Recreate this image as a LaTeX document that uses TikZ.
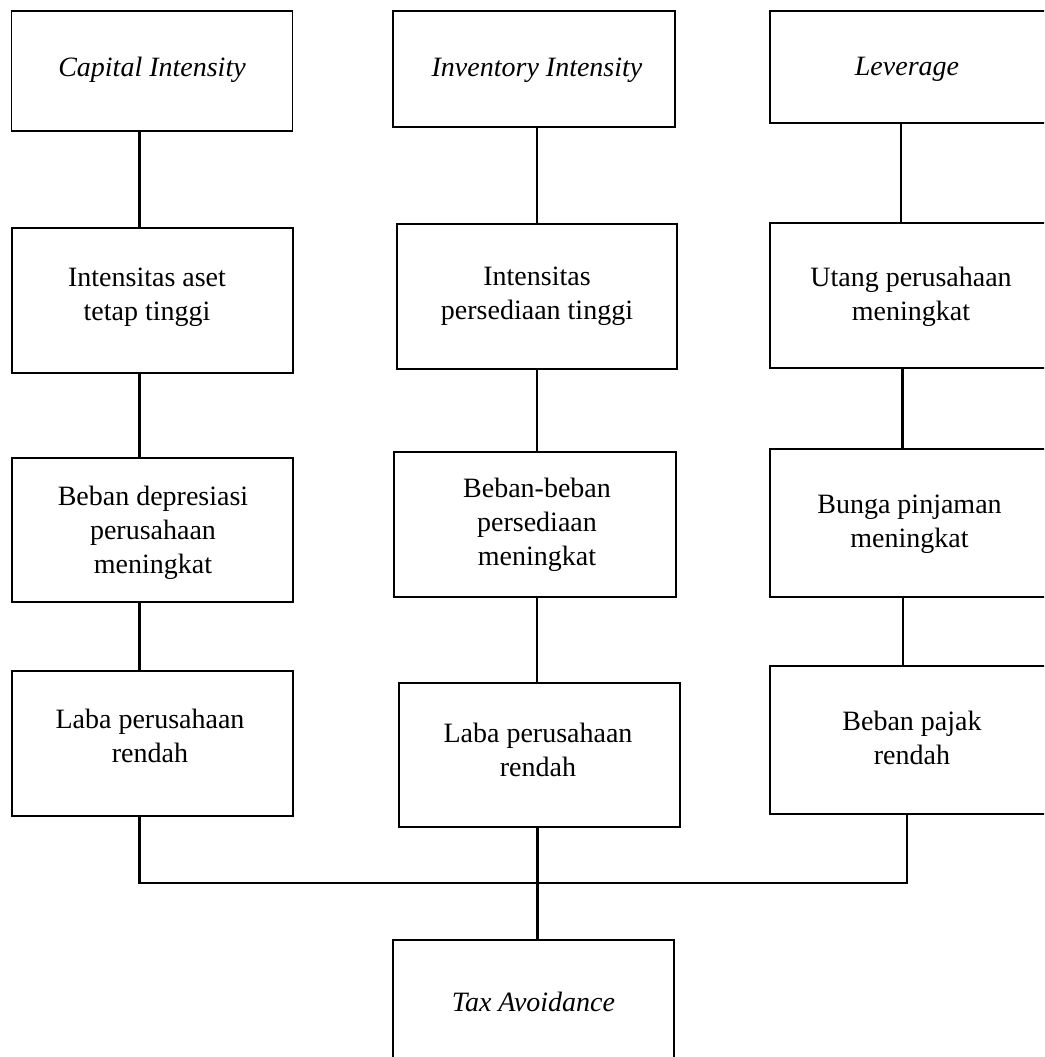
\documentclass[tikz,border=0pt]{standalone}
\usepackage{fontspec}
\setmainfont{Liberation Serif}
\begin{document}
\begin{tikzpicture}[x=1pt,y=-1pt,
  box/.style={draw=black,line width=1.9pt,rectangle,inner sep=0pt},
  txt/.style={inner sep=0pt,align=center,font=\fontsize{28}{34}\selectfont},
  itxt/.style={inner sep=0pt,align=center,font=\fontsize{28}{34}\selectfont\itshape},
  conn/.style={draw=black,line width=2.6pt}]
\useasboundingbox (0,0) rectangle (1044,1057);
\clip (0,0) rectangle (1044,1057);
% boxes
\node[box,minimum width=281pt,minimum height=120pt] (A1) at (152,71) {};
\node[box,minimum width=281pt,minimum height=145pt] (A2) at (152.5,300.5) {};
\node[box,minimum width=281pt,minimum height=144pt] (A3) at (152.5,530) {};
\node[box,minimum width=281pt,minimum height=145pt] (A4) at (152.5,743.5) {};
\node[box,minimum width=282pt,minimum height=116pt] (B1) at (534,69) {};
\node[box,minimum width=280pt,minimum height=145pt] (B2) at (537,296.5) {};
\node[box,minimum width=282pt,minimum height=145pt] (B3) at (535,524.5) {};
\node[box,minimum width=281pt,minimum height=144pt] (B4) at (539.5,755) {};
\node[box,minimum width=282pt,minimum height=112pt] (C1) at (911,67) {};
\node[box,minimum width=282pt,minimum height=145pt] (C2) at (911,295.5) {};
\node[box,minimum width=282pt,minimum height=148pt] (C3) at (911,523) {};
\node[box,minimum width=282pt,minimum height=148pt] (C4) at (911,740) {};
\node[box,minimum width=281pt,minimum height=126pt] (T) at (533.5,1003) {};
% texts
\node[itxt] (tA1) at (152,69.2) {\strut Capital Intensity};
\node[txt] (tA2) at (147,296.7) {\strut Intensitas aset\\\strut tetap tinggi};
\node[txt] (tA3) at (153,532.2) {\strut Beban depresiasi\\\strut perusahaan\\\strut meningkat};
\node[txt] (tA4) at (150,738.2) {\strut Laba perusahaan\\\strut rendah};
\node[itxt] (tB1) at (537,70.2) {\strut Inventory Intensity};
\node[txt] (tB2) at (537,295.7) {\strut Intensitas\\\strut persediaan tinggi};
\node[txt] (tB3) at (537,524.2) {\strut Beban-beban\\\strut persediaan\\\strut meningkat};
\node[txt] (tB4) at (538,752.7) {\strut Laba perusahaan\\\strut rendah};
\node[itxt] (tC1) at (907,68.2) {\strut Leverage};
\node[txt] (tC2) at (911,296.7) {\strut Utang perusahaan\\\strut meningkat};
\node[txt] (tC3) at (909.5,523.7) {\strut Bunga pinjaman\\\strut meningkat};
\node[txt] (tC4) at (912,740.7) {\strut Beban pajak\\\strut rendah};
\node[itxt] (tT) at (533.5,1004.2) {\strut Tax Avoidance};
% connector x positions
\coordinate (xa) at (139.5,0);
\coordinate (xb) at (537,0);
\coordinate (xc1) at (901,0);
\coordinate (xc2) at (902.5,0);
\coordinate (xc3) at (903,0);
\coordinate (busL) at (139.5,883);
\coordinate (busM) at (537.5,883);
\coordinate (busR) at (907,883);
% connectors
\draw[conn] (A1.south -| xa) -- (A2.north -| xa);
\draw[conn] (A2.south -| xa) -- (A3.north -| xa);
\draw[conn] (A3.south -| xa) -- (A4.north -| xa);
\draw[conn] (B1.south -| xb) -- (B2.north -| xb);
\draw[conn] (B2.south -| xb) -- (B3.north -| xb);
\draw[conn] (B3.south -| xb) -- (B4.north -| xb);
\draw[conn] (C1.south -| xc1) -- (C2.north -| xc1);
\draw[conn] (C2.south -| xc2) -- (C3.north -| xc2);
\draw[conn] (C3.south -| xc3) -- (C4.north -| xc3);
\draw[conn] (A4.south -| busL) -- (busL) -- (busR) -- (C4.south -| busR);
\draw[conn] (B4.south -| busM) -- (T.north -| busM);
\end{tikzpicture}
\end{document}
